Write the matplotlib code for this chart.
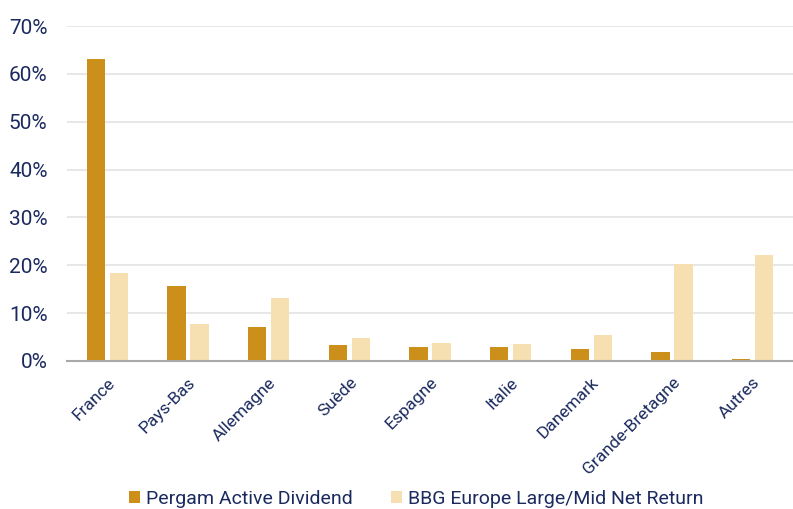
import numpy as np
import matplotlib.pyplot as plt
from matplotlib.ticker import FuncFormatter

# données (en %)
pays = ["France", "Pays-Bas", "Allemagne", "Suède", "Espagne",
        "Italie", "Danemark", "Grande-Bretagne", "Autres"]
fonds = [63.1, 15.7, 7.1, 3.3, 3.0, 3.0, 2.6, 1.9, 0.35]
indice = [18.4, 7.7, 13.2, 4.8, 3.8, 3.6, 5.4, 20.2, 22.1]

nom_fonds = "Pergam Active Dividend"
nom_indice = "BBG Europe Large/Mid Net Return"

DARK = "#CC8F19"
LIGHT = "#F6DFB0"
NAVY = "#1B2A5E"

plt.rcParams['font.family'] = ['Roboto', 'DejaVu Sans']

fig = plt.figure(figsize=(7.93, 5.09), dpi=100)
ax = fig.add_axes([67 / 793, 148 / 509, 726 / 793, 335 / 509])

x = np.arange(len(pays))
w = 0.225
ax.bar(x - 0.143, fonds, w, color=DARK, label=nom_fonds, zorder=3)
ax.bar(x + 0.143, indice, w, color=LIGHT, label=nom_indice, zorder=3)

ax.set_xlim(-0.5, len(pays) - 0.5)
ax.set_ylim(0, 70)
ax.set_yticks(np.arange(0, 71, 10))
ax.yaxis.set_major_formatter(FuncFormatter(lambda v, p: f"{v:.0f}%"))
ax.grid(axis='y', color="#E3E3E3", linewidth=1.2, zorder=0)

for s in ["left", "right", "top"]:
    ax.spines[s].set_visible(False)
ax.spines["bottom"].set_color("#A8A8A8")
ax.spines["bottom"].set_linewidth(1.5)
ax.spines["bottom"].set_zorder(4)

ax.tick_params(axis='y', length=0, pad=14, labelsize=15, labelcolor=NAVY)
ax.tick_params(axis='x', length=0, pad=10, labelsize=12.5, labelcolor=NAVY)
ax.set_xticks(x)
ax.set_xticklabels(pays, rotation=45, ha='right', rotation_mode='anchor')

leg = fig.legend(loc='lower center', bbox_to_anchor=(0.525, -0.032), ncol=2,
                 frameon=False, fontsize=14, handlelength=0.55,
                 handleheight=0.55, handletextpad=0.3, columnspacing=2.0)
for t in leg.get_texts():
    t.set_color(NAVY)

fig.savefig("out.png", dpi=100)
